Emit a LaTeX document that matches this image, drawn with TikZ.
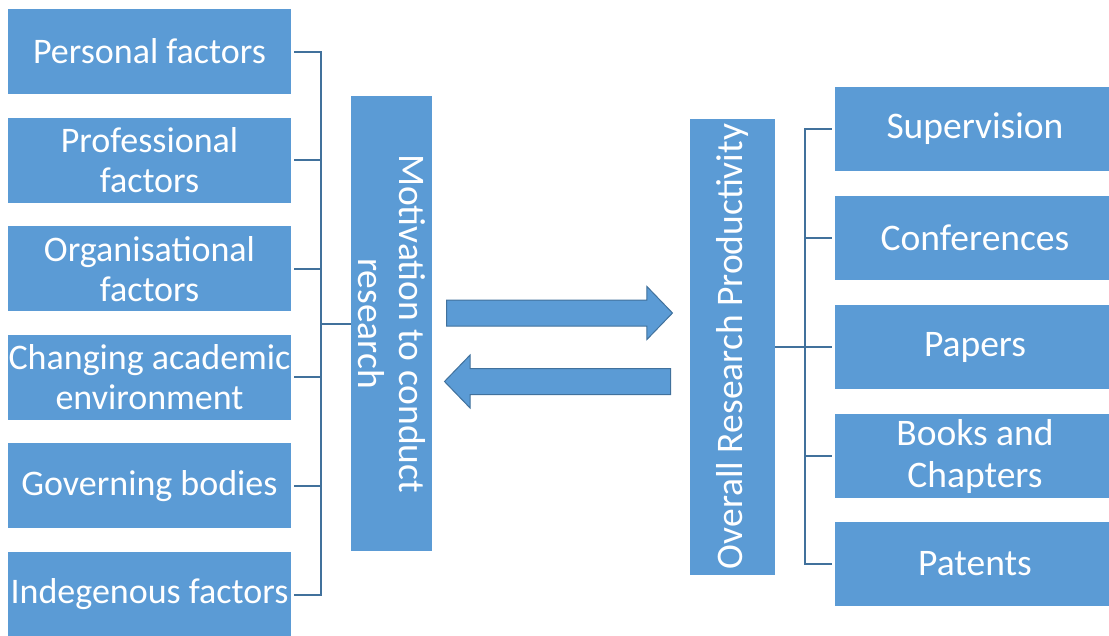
\documentclass[tikz,border=0pt]{standalone}
\usepackage{fontspec}
\setmainfont{Carlito}
\usetikzlibrary{shapes.arrows}
\definecolor{boxblue}{RGB}{91,155,213}
\definecolor{lineblue}{RGB}{65,113,156}
\tikzset{%
  box/.style={rectangle,fill=boxblue,text=white,inner sep=0pt,align=center,
    minimum width=283pt,minimum height=85pt,font=\fontsize{36}{40}\selectfont},
  rbox/.style={box,minimum width=280pt,minimum height=84pt,
    font=\fontsize{37.5}{42}\selectfont},
  vbox/.style={box,font=\fontsize{37.5}{41}\selectfont},
  conn/.style={draw=lineblue,line width=2pt},
  bigarrow/.style={single arrow,fill=boxblue,draw=lineblue,line width=1pt,
    minimum height=226pt,inner xsep=0pt,inner ysep=12.5pt,anchor=tail,
    single arrow head extend=13.5pt,single arrow tip angle=92}
}
\begin{document}
\begin{tikzpicture}[x=1pt,y=-1pt]
\useasboundingbox (0,0) rectangle (1109,635);
% factors on the left
\node[box] (pers) at (149.5,51.5) {Personal factors};
\node[box] (prof) at (149.5,160.1) {Professional\\factors};
\node[box] (orga) at (149.5,268.7) {Organisational\\factors};
\node[box] (chng) at (149.5,377.3) {Changing academic\\environment};
\node[box] (govb) at (149.5,485.9) {Governing bodies};
\node[box] (indg) at (149.5,594.5) {Indegenous factors};
% the two vertical boxes
\node[vbox,rotate=-90,minimum width=455pt,minimum height=81pt] (motv) at (391.5,323.5)
  {Motivation to conduct\\research};
\node[vbox,rotate=90,minimum width=456pt,minimum height=85pt] (ovrl) at (732.5,346.5)
  {Overall Research Productivity};
% outputs on the right
\node[rbox] (supv) at (975,129) {Supervision};
\node[rbox] (conf) at (975,238) {Conferences};
\node[rbox] (papr) at (975,347) {Papers};
\node[rbox] (book) at (975,456) {Books and\\Chapters};
\node[rbox] (patn) at (975,564) {Patents};
% arrows between
\node[bigarrow] (fwd) at (446,313) {};
\node[bigarrow,shape border rotate=180] (bwd) at (671,381.5) {};
% brackets
\coordinate (brl) at (321,323.5);
\coordinate (brr) at (805,346.5);
\foreach \f in {pers,prof,orga,chng,govb,indg}
  \draw[conn,shorten <=3pt] (\f.east) -| (brl) -- (motv.south);
\foreach \o in {supv,conf,papr,book,patn}
  \draw[conn,shorten >=3pt] (ovrl.south) -- (brr) |- (\o.west);
\end{tikzpicture}
\end{document}
